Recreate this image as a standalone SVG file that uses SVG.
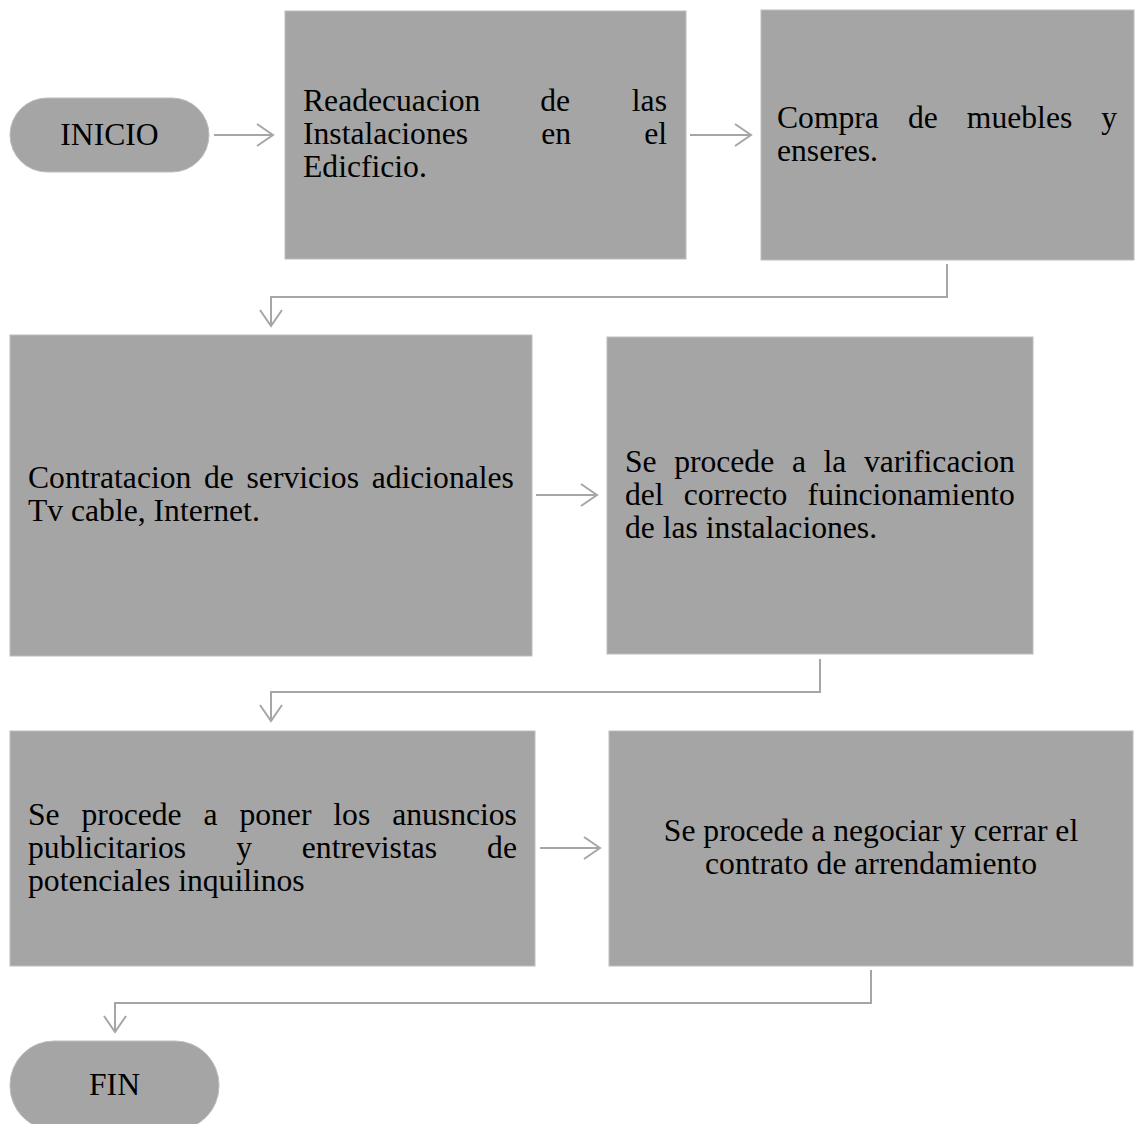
<svg xmlns="http://www.w3.org/2000/svg" width="1142" height="1124" viewBox="0 0 1142 1124">
<style>
.box{fill:#a5a5a5;stroke:#bdbdbd;stroke-width:1}
.t{font-family:"Liberation Serif","Times New Roman",serif;font-size:28px;fill:#000}
.c{text-anchor:middle}
.ln{fill:none;stroke:#a6a6a6;stroke-width:2}
</style>
<defs>
<marker id="ah" markerUnits="userSpaceOnUse" markerWidth="20" markerHeight="26" refX="0" refY="0" orient="auto" overflow="visible">
<path d="M-16,-11 L0,0 L-16,11" fill="none" stroke="#a6a6a6" stroke-width="2"/>
</marker>
</defs>
<rect width="1142" height="1124" fill="#fff"/>

<g id="connectors">
<path class="ln" d="M214,135 H273" marker-end="url(#ah)"/>
<path class="ln" d="M690,135 H751" marker-end="url(#ah)"/>
<path class="ln" d="M947,264 V297 H271 V326" marker-end="url(#ah)"/>
<path class="ln" d="M536,495 H597" marker-end="url(#ah)"/>
<path class="ln" d="M820,659 V692 H271 V721" marker-end="url(#ah)"/>
<path class="ln" d="M540,848 H600" marker-end="url(#ah)"/>
<path class="ln" d="M871,970 V1003 H115 V1032" marker-end="url(#ah)"/>
</g>

<g id="inicio">
<rect class="box" x="10" y="98" width="199" height="74" rx="37" ry="37"/>
<text class="t c" transform="translate(109.5,145) scale(1.13)">INICIO</text>
</g>

<g id="readecuacion">
<rect class="box" x="285" y="11" width="401" height="248"/>
<text class="t" transform="translate(303,111) scale(1.13)"><tspan x="0">Readecuacion</tspan><tspan x="210">de</tspan><tspan x="291">las</tspan></text>
<text class="t" transform="translate(303,144) scale(1.13)"><tspan x="0">Instalaciones</tspan><tspan x="210.8">en</tspan><tspan x="301.9">el</tspan></text>
<text class="t" transform="translate(303,177) scale(1.13)">Edicficio.</text>
</g>

<g id="compra">
<rect class="box" x="761" y="10" width="373" height="250"/>
<text class="t" transform="translate(777,128) scale(1.13)"><tspan x="0">Compra</tspan><tspan x="115.9">de</tspan><tspan x="168">muebles</tspan><tspan x="286.9">y</tspan></text>
<text class="t" transform="translate(777,161) scale(1.13)">enseres.</text>
</g>

<g id="contratacion">
<rect class="box" x="10" y="335" width="522" height="321"/>
<text class="t" transform="translate(28,488) scale(1.13)"><tspan x="0">Contratacion</tspan><tspan x="155.8">de</tspan><tspan x="193.4">servicios</tspan><tspan x="304.1">adicionales</tspan></text>
<text class="t" transform="translate(28,521) scale(1.13)">Tv cable, Internet.</text>
</g>

<g id="verificacion">
<rect class="box" x="607" y="337" width="426" height="317"/>
<text class="t" transform="translate(625,472) scale(1.13)"><tspan x="0">Se</tspan><tspan x="43.5">procede</tspan><tspan x="147.7">a</tspan><tspan x="175.6">la</tspan><tspan x="211.4">varificacion</tspan></text>
<text class="t" transform="translate(625,505) scale(1.13)"><tspan x="0">del</tspan><tspan x="52">correcto</tspan><tspan x="161.6">fuincionamiento</tspan></text>
<text class="t" transform="translate(625,538) scale(1.13)">de las instalaciones.</text>
</g>

<g id="anuncios">
<rect class="box" x="10" y="731" width="525" height="235"/>
<text class="t" transform="translate(28,825) scale(1.13)"><tspan x="0">Se</tspan><tspan x="47.4">procede</tspan><tspan x="155.3">a</tspan><tspan x="187.1">poner</tspan><tspan x="270.2">los</tspan><tspan x="322.3">anusncios</tspan></text>
<text class="t" transform="translate(28,858) scale(1.13)"><tspan x="0">publicitarios</tspan><tspan x="184.2">y</tspan><tspan x="242.3">entrevistas</tspan><tspan x="406.3">de</tspan></text>
<text class="t" transform="translate(28,891) scale(1.13)">potenciales inquilinos</text>
</g>

<g id="negociar">
<rect class="box" x="609" y="731" width="524" height="235"/>
<text class="t c" transform="translate(871,841) scale(1.13)">Se procede a negociar y cerrar el</text>
<text class="t c" transform="translate(871,874) scale(1.13)">contrato de arrendamiento</text>
</g>

<g id="fin">
<rect class="box" x="10" y="1041" width="209" height="89" rx="44" ry="44"/>
<text class="t c" transform="translate(114.5,1095) scale(1.13)">FIN</text>
</g>
</svg>
